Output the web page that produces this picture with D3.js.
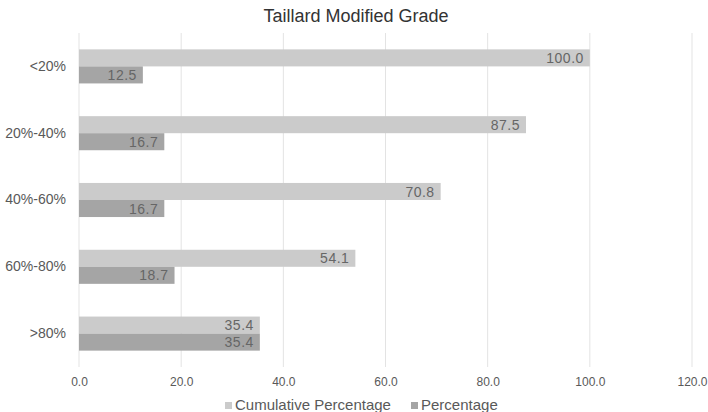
<!DOCTYPE html>
<html>
<head>
<meta charset="utf-8">
<script src="https://cdn.jsdelivr.net/npm/d3@7"></script>
<style>
  body { margin: 0; background: #fff; }
  svg { font-family: "Liberation Sans", Arial, sans-serif; }
</style>
</head>
<body>
<div id="chart"></div>
<script>
const categories = ['<20%', '20%-40%', '40%-60%', '60%-80%', '>80%'];
const cumulative = [100.0, 87.5, 70.8, 54.1, 35.4];
const percentage = [12.5, 16.7, 16.7, 18.7, 35.4];
const seriesNames = ['Cumulative Percentage', 'Percentage'];
const xTicks = [0, 20, 40, 60, 80, 100, 120];

const colors = ['#cbcbcb', '#a5a5a5'];

const svg = d3.select('#chart').append('svg').attr('width', 708).attr('height', 412);

const margin = {top: 33, right: 16, bottom: 45, left: 79},
      width = 708 - margin.left - margin.right,
      height = 412 - margin.top - margin.bottom;

const x = d3.scaleLinear().domain([0, 120]).range([0, 692 - 79]);
const y = d3.scaleBand().domain(categories).range([0, height]).paddingInner(0.49).paddingOuter(0.245);
const ySub = d3.scaleBand().domain(seriesNames).range([0, y.bandwidth()]);

svg.append('text')
    .attr('x', 356)
    .attr('y', 22)
    .attr('text-anchor', 'middle')
    .attr('font-size', 18)
    .attr('fill', '#333')
    .text('Taillard Modified Grade');

const g = svg.append('g')
    .attr('transform', `translate(${margin.left},${margin.top})`);

// gridlines
g.append('g')
    .selectAll('line')
    .data(xTicks)
    .join('line')
    .attr('x1', d => x(d))
    .attr('x2', d => x(d))
    .attr('y1', 0)
    .attr('y2', height)
    .attr('stroke', '#e3e3e3')
    .attr('stroke-width', 1);

// x axis labels
const xAxis = g.append('g')
    .attr('transform', `translate(0,${height})`)
    .call(d3.axisBottom(x).tickValues(xTicks).tickFormat(d3.format('.1f')).tickSize(0).tickPadding(10));
xAxis.select('.domain').remove();
xAxis.selectAll('text').attr('font-size', 12).attr('fill', '#595959').attr('font-family', 'Liberation Sans, Arial, sans-serif');

// y axis labels
const yAxis = g.append('g')
    .call(d3.axisLeft(y).tickSize(0).tickPadding(13));
yAxis.select('.domain').remove();
yAxis.selectAll('text').attr('font-size', 14).attr('fill', '#595959').attr('font-family', 'Liberation Sans, Arial, sans-serif');

const rows = categories.map((c, i) => ({cat: c, values: [cumulative[i], percentage[i]]}));

const groups = g.selectAll('.grp')
    .data(rows)
    .join('g')
    .attr('class', 'grp')
    .attr('transform', d => `translate(0,${y(d.cat)})`);

groups.selectAll('rect')
    .data(d => d.values.map((v, j) => ({name: seriesNames[j], v, j})))
    .join('rect')
    .attr('x', x(0))
    .attr('y', d => ySub(d.name))
    .attr('width', d => x(d.v) - x(0))
    .attr('height', ySub.bandwidth())
    .attr('fill', d => colors[d.j]);

groups.selectAll('text')
    .data(d => d.values.map((v, j) => ({name: seriesNames[j], v, j})))
    .join('text')
    .attr('x', d => x(d.v) - 6)
    .attr('y', d => ySub(d.name) + ySub.bandwidth() / 2)
    .attr('dy', '0.36em')
    .attr('text-anchor', 'end')
    .attr('font-size', 14)
    .attr('letter-spacing', 0.5)
    .attr('fill', '#666')
    .text(d => d3.format('.1f')(d.v));

// legend
const legend = svg.append('g').attr('transform', 'translate(225,405)');
const legendX = [0, 186];
seriesNames.forEach((name, i) => {
    legend.append('rect')
        .attr('x', legendX[i])
        .attr('y', -3)
        .attr('width', 7)
        .attr('height', 7)
        .attr('fill', colors[i]);
    legend.append('text')
        .attr('x', legendX[i] + 10)
        .attr('y', 0)
        .attr('dy', '0.36em')
        .attr('font-size', 15)
        .attr('fill', '#595959')
        .text(name);
});
</script>
</body>
</html>
